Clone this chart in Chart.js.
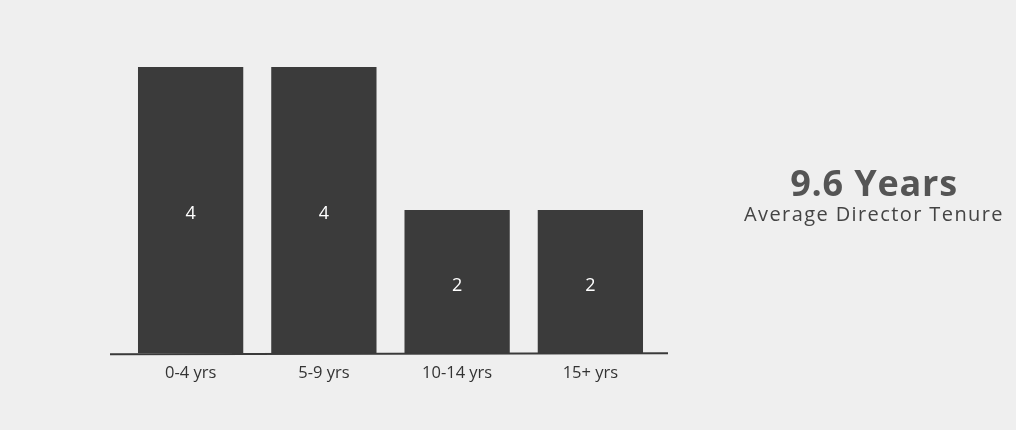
<!DOCTYPE html>
<html>
<head>
<meta charset="utf-8">
<script src="https://cdn.jsdelivr.net/npm/chart.js@4.4.1/dist/chart.umd.min.js"></script>
<style>
  html, body { margin: 0; padding: 0; background: #efefef; }
  #wrap { position: relative; width: 1016px; height: 430px; }
  #grafico { position: absolute; left: 0; top: 0; }
  .resumo { position: absolute; left: 716px; width: 316px; text-align: center;
            font-family: "Open Sans", sans-serif; color: #555; white-space: nowrap; }
  #valor { top: 158px; font-size: 36px; font-weight: bold; letter-spacing: 0.8px; }
  #legenda { top: 200px; font-size: 20px; color: #444; letter-spacing: 1.4px; }
</style>
</head>
<body>
<div id="wrap">
  <canvas id="grafico" width="1016" height="430"></canvas>
  <div class="resumo" id="valor">9.6 Years</div>
  <div class="resumo" id="legenda">Average Director Tenure</div>
</div>
<script>
const faixas = ['0-4 yrs', '5-9 yrs', '10-14 yrs', '15+ yrs'];
const diretores = [4, 4, 2, 2];

// linha de base e rótulos dentro das barras
const extras = {
  id: 'extras',
  afterDatasetsDraw(chart) {
    const c = chart.ctx, a = chart.chartArea;
    c.save();
    c.strokeStyle = '#3a3a3a';
    c.lineWidth = 2;
    c.beginPath();
    c.moveTo(a.left - 14, a.bottom + 1);
    c.lineTo(a.right + 11, a.bottom);
    c.stroke();
    c.fillStyle = '#fff';
    c.font = '18px "Open Sans", sans-serif';
    c.textAlign = 'center';
    c.textBaseline = 'middle';
    chart.getDatasetMeta(0).data.forEach((bar, i) => {
      c.fillText(diretores[i], bar.x, (bar.y + bar.base) / 2 + 4);
    });
    c.restore();
  }
};

new Chart(document.getElementById('grafico'), {
  type: 'bar',
  data: {
    labels: faixas,
    datasets: [{
      data: diretores,
      backgroundColor: '#3b3b3b',
      categoryPercentage: 0.79,
      barPercentage: 1
    }]
  },
  options: {
    responsive: false,
    animation: false,
    layout: { padding: { left: 124, right: 359, top: 67, bottom: 45 } },
    plugins: { legend: { display: false }, tooltip: { enabled: false } },
    scales: {
      y: { display: false, min: 0, max: 4 },
      x: {
        grid: { display: false },
        border: { display: false },
        ticks: { color: '#333', padding: 2, font: { family: '"Open Sans", sans-serif', size: 16.5 } }
      }
    }
  },
  plugins: [extras]
});
</script>
</body>
</html>
